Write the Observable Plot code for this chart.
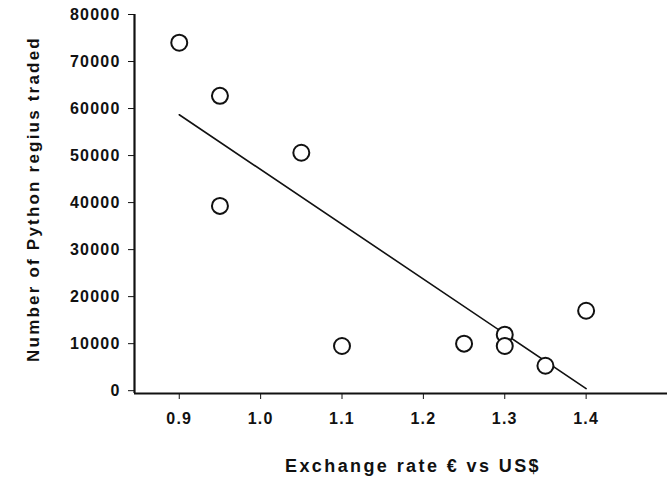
<!DOCTYPE html>
<html>
<head>
<meta charset="utf-8">
<script src="https://cdn.jsdelivr.net/npm/d3@7"></script>
<script src="https://cdn.jsdelivr.net/npm/@observablehq/plot@0.6"></script>
<style>
  html, body { margin: 0; padding: 0; background: #fff; }
  svg { display: block; }
</style>
</head>
<body>
<div id="chart"></div>
<script>
const exchangeRate = [0.9, 0.95, 0.95, 1.05, 1.1, 1.25, 1.3, 1.3, 1.35, 1.4];
const pythonsTraded = [74000, 62700, 39300, 50600, 9500, 10000, 11900, 9500, 5300, 17000];
const xTicks = [0.9, 1.0, 1.1, 1.2, 1.3, 1.4];
const yTicks = [0, 10000, 20000, 30000, 40000, 50000, 60000, 70000, 80000];
const xTitle = "Exchange rate € vs US$";
const yTitle = "Number of Python regius traded";

const data = exchangeRate.map((x, i) => ({x, y: pythonsTraded[i]}));

const font = "'Liberation Sans', Arial, sans-serif";

const plot = Plot.plot({
  width: 669,
  height: 478,
  marginLeft: 134,
  marginTop: 14,
  marginBottom: 85,
  marginRight: 2,
  style: {fontFamily: font, fontSize: "16px", fontWeight: "bold", color: "#111", background: "#fff", letterSpacing: "1.2px"},
  x: {domain: [0.845, 1.5], ticks: xTicks, tickFormat: d3.format(".1f"), tickSize: 6, tickPadding: 13, label: null},
  y: {domain: [-600, 80000], ticks: yTicks, tickFormat: d => String(d), tickSize: 6, tickPadding: 8, label: null},
  marks: [
    Plot.ruleX([0.845], {stroke: "#111", strokeWidth: 2.2, y1: -600, y2: 80000}),
    Plot.ruleY([-600], {stroke: "#111", strokeWidth: 2.2}),
    Plot.linearRegressionY(data, {x: "x", y: "y", ci: 0, stroke: "#111", strokeWidth: 1.6}),
    Plot.dot(data, {x: "x", y: "y", r: 8, stroke: "#111", strokeWidth: 2, fill: "white"}),
    Plot.text([xTitle], {frameAnchor: "bottom", dx: 12, dy: 78, fontSize: 18, fontWeight: "bold", fill: "#111"}),
    Plot.text([yTitle], {frameAnchor: "left", textAnchor: "middle", rotate: -90, dx: -101, dy: -5, fontSize: 17, fontWeight: "bold", fill: "#111"})
  ]
});
d3.select(plot).selectAll("text").each(function () {
  const t = this.textContent;
  if (t === xTitle) this.setAttribute("letter-spacing", "2.4");
  else if (t === yTitle) this.setAttribute("letter-spacing", "2.2");
});
document.getElementById("chart").appendChild(plot);
</script>
</body>
</html>
